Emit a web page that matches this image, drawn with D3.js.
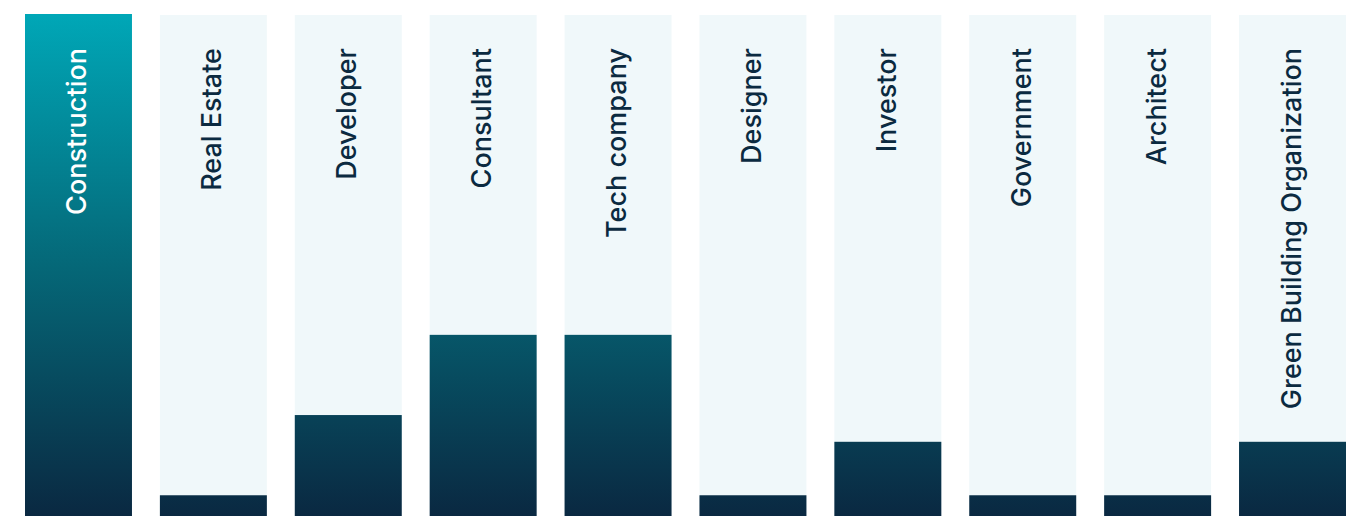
<!DOCTYPE html>
<html>
<head>
<meta charset="utf-8">
<script src="https://cdn.jsdelivr.net/npm/d3@7"></script>
<style>
  html, body { margin: 0; padding: 0; background: #fff; overflow: hidden; }
  svg { display: block; }
</style>
</head>
<body>
<svg id="chart" width="1364" height="516"></svg>
<script>
// Stakeholder categories and their counts
const categories = ["Construction", "Real Estate", "Developer", "Consultant", "Tech company",
    "Designer", "Investor", "Government", "Architect", "Green Building Organization"];
const counts = [19, 1, 4, 7, 7, 1, 3, 1, 1, 3];

let svg = d3.select("#chart"),
    chartTop = 14,
    chartBottom = 522; // bars run a little past the bottom edge of the page

let x = d3.scaleBand()
    .domain(categories)
    .range([25, 1346])
    .paddingInner(0.207)
    .paddingOuter(0);

let y = d3.scaleLinear()
    .domain([0, d3.max(counts)])
    .range([chartBottom, chartTop]);

// One gradient for all bars, fixed to the chart so short bars stay dark
let defs = svg.append("defs");
let grad = defs.append("linearGradient")
    .attr("id", "barGrad")
    .attr("gradientUnits", "userSpaceOnUse")
    .attr("x1", 0).attr("x2", 0)
    .attr("y1", chartTop).attr("y2", chartBottom);
grad.append("stop").attr("offset", "0%").attr("stop-color", "#00a7b7");
grad.append("stop").attr("offset", "50%").attr("stop-color", "#056777");
grad.append("stop").attr("offset", "100%").attr("stop-color", "#0a2740");

let data = categories.map((c, i) => ({name: c, value: counts[i]}));
let maxVal = d3.max(counts);

// Pale track behind every bar
svg.append("g").attr("class", "tracks")
    .selectAll("rect")
    .data(data)
    .enter()
    .append("rect")
    .attr("x", d => x(d.name))
    .attr("y", chartTop + 1)
    .attr("width", x.bandwidth())
    .attr("height", chartBottom - chartTop - 1)
    .attr("fill", "#f0f8fa");

svg.append("g").attr("class", "bars")
    .selectAll("rect")
    .data(data)
    .enter()
    .append("rect")
    .attr("x", d => x(d.name))
    .attr("y", d => y(d.value))
    .attr("width", x.bandwidth())
    .attr("height", d => chartBottom - y(d.value))
    .attr("fill", "url(#barGrad)");

// Rotated labels, reading upward, hung from the top of each column
svg.append("g").attr("class", "labels")
    .selectAll("text")
    .data(data)
    .enter()
    .append("text")
    .attr("transform", d => "translate(" + (x(d.name) + x.bandwidth() / 2 + 8) + "," + 48 + ") rotate(-90)")
    .attr("text-anchor", "end")
    .attr("font-family", "Inter, 'Noto Sans', sans-serif")
    .attr("font-size", 27)
    .attr("font-weight", 500)
    .attr("fill", d => d.value === maxVal ? "#ffffff" : "#0b2a40")
    .text(d => d.name);
</script>
</body>
</html>
